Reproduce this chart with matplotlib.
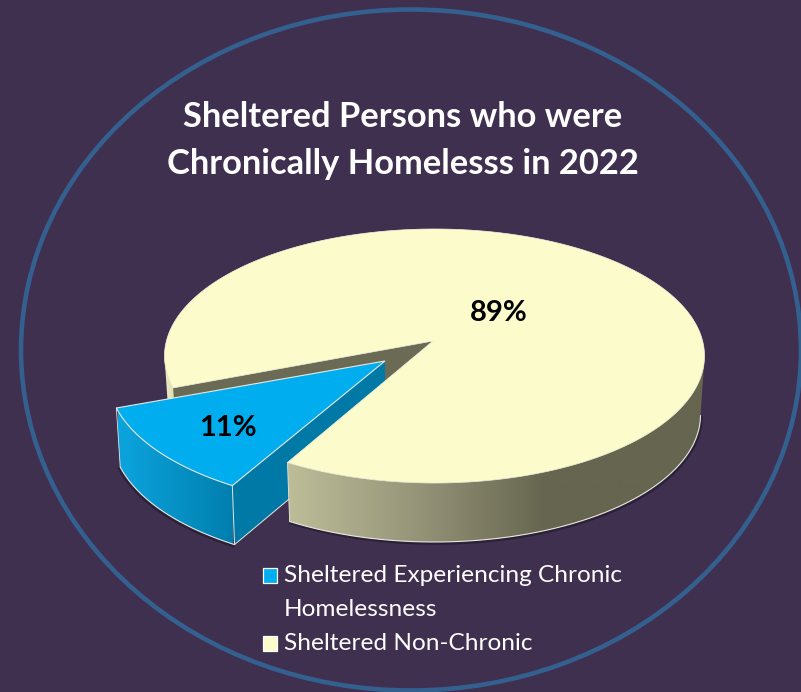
import matplotlib
matplotlib.use("Agg")
import matplotlib.pyplot as plt
from matplotlib.colors import LinearSegmentedColormap
from matplotlib.patches import Ellipse, Polygon, Rectangle
import numpy as np

title_lines = ["Sheltered Persons who were", "Chronically Homelesss in 2022"]
categories = ["Sheltered Experiencing Chronic\nHomelessness", "Sheltered Non-Chronic"]
shares = [11, 89]
share_labels = ["11%", "89%"]

BG = "#3F3050"
RING = "#34608F"
EDGE = "#E8E8E0"
colors = ("#00AEEF", "#FBFBCC")
start_angle = 201.0
wedge_start = 200.3

plt.rcParams["font.family"] = ["Lato", "DejaVu Sans"]


def rim_points(angles, apex, center, radii):
    """Where rays from the apex hit the top ellipse, in unit circle coords"""
    p0 = np.array([(apex[0] - center[0]) / radii[0], (apex[1] - center[1]) / radii[1]])
    a = np.radians(angles)
    d = np.column_stack([np.cos(a), -np.sin(a)])
    b = d @ p0
    s = -b + np.sqrt(b ** 2 - (p0 @ p0 - 1.0))
    return p0 + d * s[:, None]


def to_xy(uv, center, radii):
    return np.column_stack([center[0] + uv[:, 0] * radii[0], center[1] + uv[:, 1] * radii[1]])


def gradient_fill(ax, poly, x0, x1, xs, cols, zorder):
    cmap = LinearSegmentedColormap.from_list("wall", list(zip(xs, cols)))
    im = ax.imshow(
        np.linspace(0, 1, 256)[None, :],
        extent=(x0, x1, 700, 0),
        cmap=cmap,
        aspect="auto",
        interpolation="bilinear",
        zorder=zorder,
    )
    patch = Polygon(poly, closed=True, fc="none", ec="none", transform=ax.transData)
    ax.add_patch(patch)
    im.set_clip_path(patch)


fig = plt.figure(figsize=(8.01, 6.92), dpi=100, facecolor=BG)
ax = fig.add_axes([0, 0, 1, 1])
ax.set_facecolor(BG)
ax.axis("off")

ax.add_patch(Ellipse((411, 350), 780, 681, fc="none", ec=RING, lw=3.3, zorder=1))

# geometry of the tilted pie
span = 360.0 * shares[0] / sum(shares)
main_apex, main_c, main_r = (433, 341), (434.5, 356), (270, 127)
main_bc, main_br = (434.5, 415), (266, 127)
wedge_apex, wedge_c, wedge_r = (385, 361), (386, 376), (278, 131.5)
wedge_bc, wedge_br = (386, 435), (274, 131.5)

# main slice
main_ang = np.linspace(start_angle + span, start_angle + 360, 500)
main_uv = rim_points(main_ang, main_apex, main_c, main_r)
main_top = to_xy(main_uv, main_c, main_r)
main_low = to_xy(main_uv, main_bc, main_br)
front = (main_ang < 400) & (main_uv[:, 1] >= 0)
rim = (main_ang > 400) & (main_uv[:, 1] >= 0)

# inner cut wall behind the small slice
p_cut = main_top[-1]
ax.add_patch(
    Polygon(
        [main_apex, p_cut, p_cut + (0, 60), np.add(main_apex, (0, 60))],
        fc="#6B6A55",
        ec="none",
        zorder=2,
    )
)

# left bit of the outer wall
rim_poly = np.vstack([main_top[rim], main_low[rim][::-1]])
gradient_fill(ax, rim_poly, 160, 180, [0, 1], ["#F0EFC6", "#D9D7AC"], 2)

# small slice, pulled out
wedge_ang = np.linspace(wedge_start, wedge_start + span, 120)
wedge_uv = rim_points(wedge_ang, wedge_apex, wedge_c, wedge_r)
wedge_top = to_xy(wedge_uv, wedge_c, wedge_r)
wedge_low = to_xy(wedge_uv, wedge_bc, wedge_br)
wedge_apex_low = np.add(wedge_apex, (0, 58))

ax.plot(wedge_low[:, 0] - 1, wedge_low[:, 1] + 1.5, color="#2C2139", lw=2.0, zorder=2.5)
wall = np.vstack([wedge_top, wedge_low[::-1]])
gradient_fill(ax, wall, 118, 233, [0, 1], ["#0CA4DE", "#007FAE"], 3)
ax.add_patch(
    Polygon(
        [wedge_apex, wedge_top[-1], wedge_low[-1], wedge_apex_low],
        fc="#0079A6",
        ec="none",
        zorder=3,
    )
)
ax.plot(wedge_low[:, 0], wedge_low[:, 1], color=EDGE, lw=0.8, zorder=3.2)
ax.plot(
    [wedge_top[-1][0], wedge_low[-1][0], wedge_apex_low[0]],
    [wedge_top[-1][1], wedge_low[-1][1], wedge_apex_low[1]],
    color=EDGE,
    lw=0.7,
    zorder=3.2,
)
ax.plot(
    [wedge_top[0][0], wedge_low[0][0]],
    [wedge_top[0][1], wedge_low[0][1]],
    color=EDGE,
    lw=0.6,
    zorder=3.2,
)
ax.add_patch(
    Polygon(
        np.vstack([[wedge_apex], wedge_top]),
        closed=True,
        fc=colors[0],
        ec=EDGE,
        lw=0.8,
        zorder=4,
    )
)

# main slice front wall and top go over the small slice's wall
ax.plot(main_low[front, 0] + 1, main_low[front, 1] + 1.5, color="#2C2139", lw=2.0, zorder=4.5)
wall = np.vstack([main_top[front], main_low[front][::-1]])
gradient_fill(
    ax,
    wall,
    288,
    704,
    [0, 0.3, 0.62, 1],
    ["#BDBD99", "#97967A", "#66654F", "#66654F"],
    5,
)
ax.plot(main_low[front, 0], main_low[front, 1], color=EDGE, lw=0.8, zorder=5.2)
ax.plot(
    [main_top[0][0], main_low[0][0]],
    [main_top[0][1], main_low[0][1]],
    color=EDGE,
    lw=0.6,
    zorder=5.2,
)
ax.add_patch(
    Polygon(
        np.vstack([[main_apex], main_top]),
        closed=True,
        fc=colors[1],
        ec="#F4F4DC",
        lw=0.5,
        zorder=6,
    )
)

ax.text(228, 428, share_labels[0], color="black", fontsize=21, fontweight="bold",
        ha="center", va="center", zorder=8)
ax.text(498.5, 313, share_labels[1], color="black", fontsize=21, fontweight="bold",
        ha="center", va="center", zorder=8)

ax.text(403, 117, title_lines[0], color="white", fontsize=24.8, fontweight="bold",
        ha="center", va="center", zorder=8)
ax.text(403, 164, title_lines[1], color="white", fontsize=24.8, fontweight="bold",
        ha="center", va="center", zorder=8)

# legend
ax.add_patch(Rectangle((262.5, 568), 14, 15, fc=colors[0], ec="white", lw=0.9, zorder=8))
ax.add_patch(Rectangle((262.5, 636), 14, 15, fc=colors[1], ec="white", lw=0.9, zorder=8))
line1, line2 = categories[0].split("\n")
ax.text(284, 576, line1, color="white", fontsize=17.6, ha="left", va="center", zorder=8)
ax.text(284, 609, line2, color="white", fontsize=17.6, ha="left", va="center", zorder=8)
ax.text(284, 644, categories[1], color="white", fontsize=17.6, ha="left", va="center", zorder=8)

ax.set_xlim(0, 801)
ax.set_ylim(692, 0)
fig.savefig("out.png", dpi=100, facecolor=BG)
